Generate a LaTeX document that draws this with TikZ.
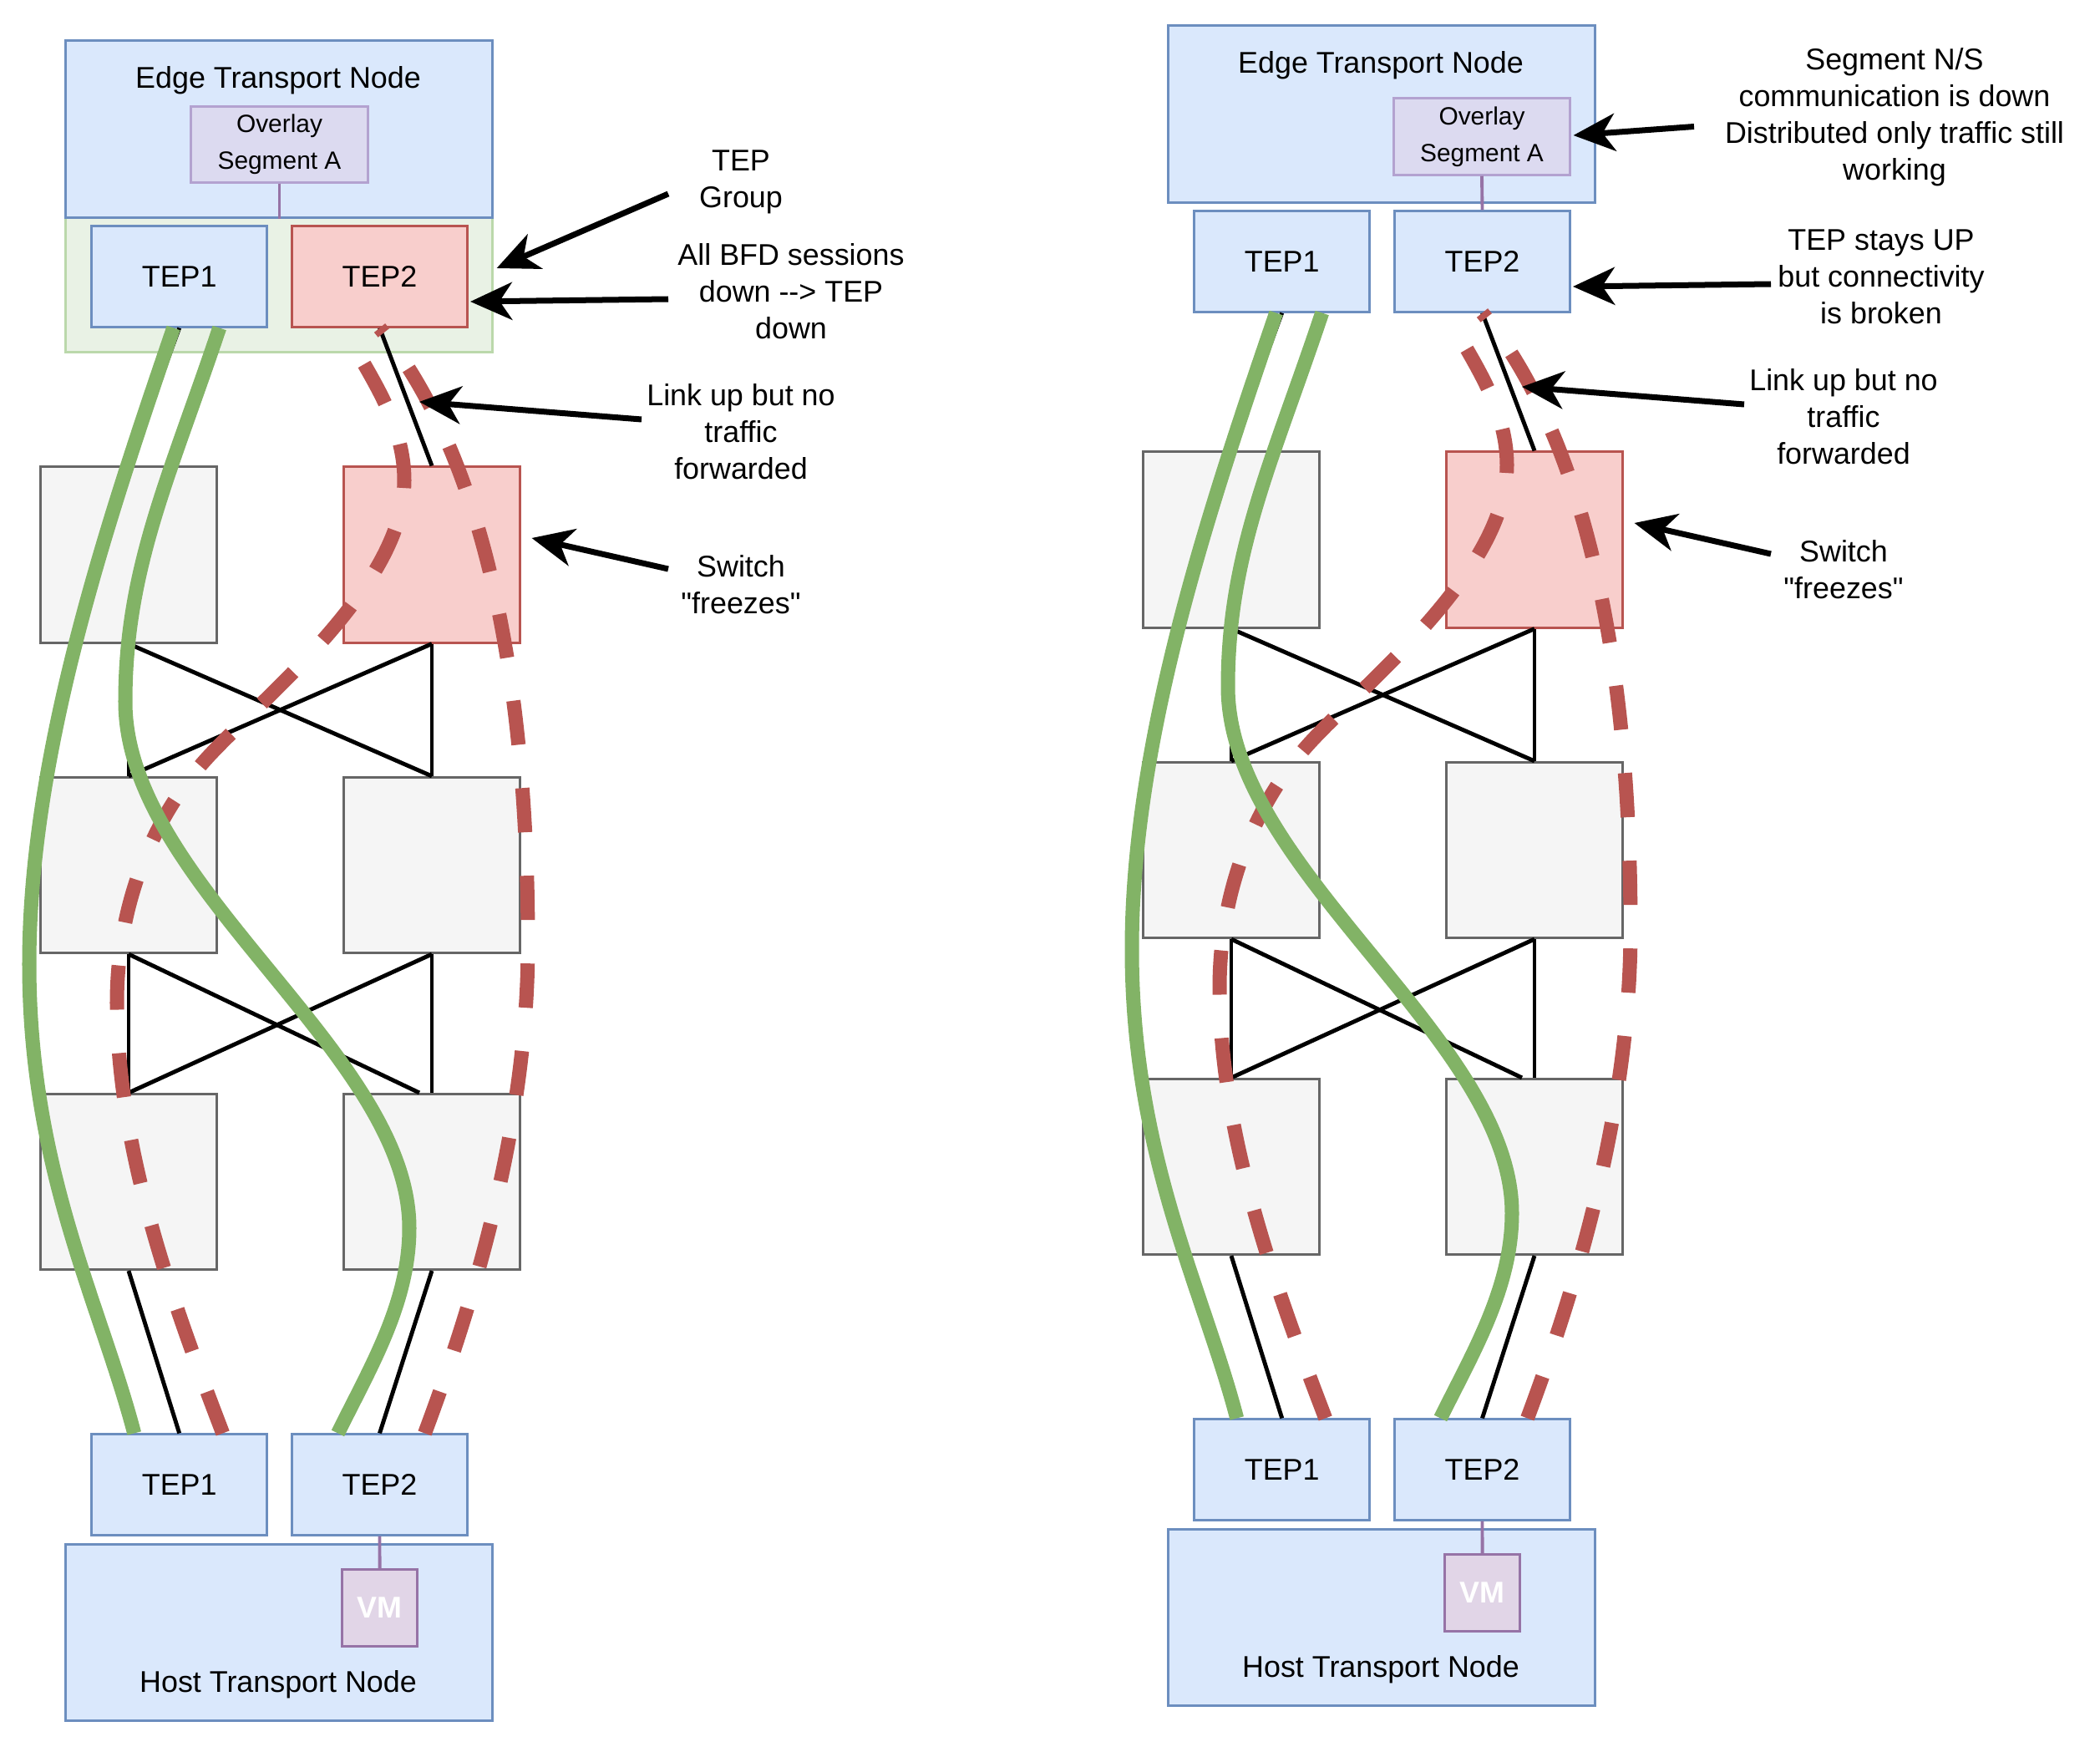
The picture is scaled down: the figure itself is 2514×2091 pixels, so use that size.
\documentclass[tikz,border=0pt]{standalone}
\usepackage{fontspec}
\setmainfont{Liberation Sans}
\usetikzlibrary{arrows.meta,calc}
\definecolor{bluefill}{HTML}{DAE8FC}
\definecolor{blueline}{HTML}{6C8EBF}
\definecolor{redfill}{HTML}{F8CECC}
\definecolor{redline}{HTML}{B85450}
\definecolor{grayfill}{HTML}{F5F5F5}
\definecolor{grayline}{HTML}{666666}
\definecolor{groupfill}{HTML}{E9F2E5}
\definecolor{groupline}{HTML}{BBD8AB}
\definecolor{ovfill}{HTML}{DCDAF0}
\definecolor{ovline}{HTML}{B3A2D0}
\definecolor{vmfill}{HTML}{E1D5E7}
\definecolor{vmline}{HTML}{9673A6}
\definecolor{okgreen}{HTML}{82B366}
\tikzset{
  txt/.style={font=\fontsize{10.2}{12.5}\selectfont, align=center},
  box/.style={draw, line width=0.85pt, inner sep=0pt, txt},
  tepbox/.style={box, minimum width=2.1cm, minimum height=1.2cm},
  switchbox/.style={box, fill=grayfill, draw=grayline, minimum size=2.1cm},
  tnbox/.style={box, fill=bluefill, draw=blueline, minimum width=5.1cm, minimum height=2.11cm},
  link/.style={line width=1.4pt},
  vmlink/.style={draw=vmline, line width=1.1pt},
  okpath/.style={draw=okgreen, line width=0.17cm},
  badpath/.style={draw=redline, line width=0.17cm, dash pattern=on 0.53cm off 0.52cm},
  callout/.style={-{Stealth[length=0.5cm,width=0.45cm,inset=0.15cm]}, line width=0.07cm}
}
\begin{document}
\begin{tikzpicture}[x=0.01cm, y=-0.01cm]
\useasboundingbox (0,0) rectangle (2514,2091);
\node[box, fill=groupfill, draw=groupline, minimum width=5.1cm, minimum height=1.61cm] (grp) at (334,340.5) {};
\foreach \s/\dx/\dy/\topfill/\topline in {L/0/0/redfill/redline, R/1320/-18/bluefill/blueline} {
\begin{scope}[shift={(\dx,\dy)}]
 \node[tnbox] (\s-etn) at (334,154.5) {};
 \node[txt] at (333,96) {Edge Transport Node};
 \node[tepbox, fill=bluefill, draw=blueline] (\s-tep1) at (214.7,331) {TEP1};
 \node[tepbox, fill=\topfill, draw=\topline] (\s-tep2) at (454.5,331) {TEP2};
 \node[switchbox] (\s-sw11) at (154,664) {};
 \node[switchbox, fill=redfill, draw=redline] (\s-sw12) at (517,664) {};
 \node[switchbox] (\s-sw21) at (154,1035.5) {};
 \node[switchbox] (\s-sw22) at (517,1035.5) {};
 \node[switchbox] (\s-sw31) at (154,1414.5) {};
 \node[switchbox] (\s-sw32) at (517,1414.5) {};
 \node[tepbox, fill=bluefill, draw=blueline] (\s-htep1) at (214.7,1777) {TEP1};
 \node[tepbox, fill=bluefill, draw=blueline] (\s-htep2) at (454.5,1777) {TEP2};
 \node[tnbox] (\s-htn) at (334,1954) {};
 \node[txt] at (333,2016) {Host Transport Node};
 \node[box, fill=vmfill, draw=vmline, minimum width=0.9cm, minimum height=0.91cm, text=white, font=\fontsize{10.2}{12}\selectfont\bfseries] (\s-vm) at (454.6,1924.5) {VM};
 \draw[vmlink] (\s-htep2.south) -- (\s-vm.north);
 % physical links
 \draw[link] (\s-tep1.south) -- (\s-sw11.north);
 \draw[link] (\s-tep2.south) -- (\s-sw12.north);
 \draw[link] (\s-sw11.south) -- (\s-sw21.north);
 \draw[link] (\s-sw11.south) -- (\s-sw22.north);
 \draw[link] (\s-sw12.south) -- (\s-sw21.north);
 \draw[link] (\s-sw12.south) -- (\s-sw22.north);
 \draw[link] (\s-sw21.south) -- (\s-sw31.north);
 \draw[link] (\s-sw21.south) -- ($(\s-sw32.north)+(-15,0)$);
 \draw[link] (\s-sw22.south) -- (\s-sw31.north);
 \draw[link] (\s-sw22.south) -- (\s-sw32.north);
 \draw[link] (\s-sw31.south) -- (\s-htep1.north);
 \draw[link] (\s-sw32.south) -- (\s-htep2.north);
 % tunnels
 \draw[badpath] ($(\s-htep1.north)+(52,0)$) .. controls (210,1567) and (140,1380) .. (140,1200)
   .. controls (140,1080) and (185,975) .. (250,905)
   .. controls (318,832) and (484,700) .. (484,575)
   .. controls (484,500) and (435,441) .. ($(\s-tep2.south)+(-42,0)$);
 \draw[badpath] ($(\s-htep2.north)+(54,0)$) .. controls (564,1567) and (632,1350) .. (632,1130)
   .. controls (632,800) and (575,540) .. (\s-tep2.south);
 \draw[okpath] ($(\s-tep1.south)+(-7,0)$) .. controls (130,620) and (35,900) .. (35,1154)
   .. controls (35,1400) and (120,1560) .. ($(\s-htep1.north)+(-54,0)$);
 \draw[okpath] ($(\s-tep1.south)+(48,0)$) .. controls (203,571) and (150,680) .. (150,840)
   .. controls (150,1060) and (490,1260) .. (490,1470)
   .. controls (490,1560) and (443,1637) .. ($(\s-htep2.north)+(-50,0)$);
 % callouts shared by both sides
 \coordinate (\s-tep-tail) at (800,358);
 \draw[callout] (\s-tep-tail) -- ($(\s-tep2.east)+(2,30)$);
 \node[txt] (\s-link-note) at (887,517) {Link up but no\\traffic\\forwarded};
 \coordinate (\s-link-tail) at (768,502);
 \draw[callout] (\s-link-tail) -- ($(\s-tep2.south)!0.536!(\s-sw12.north)+(14,0)$);
 \node[txt] (\s-sw-note) at (887,700) {Switch\\\textquotedbl freezes\textquotedbl};
 \coordinate (\s-sw-tail) at (800,681);
 \draw[callout] (\s-sw-tail) -- ($(\s-sw12.east)+(13,-20)$);
\end{scope}
}
\node[box, fill=ovfill, draw=ovline, minimum width=2.11cm, minimum height=0.905cm, font=\fontsize{8.5}{12.5}\selectfont] (L-ov) at (334.5,172.75) {Overlay\\Segment A};
\draw[vmlink] (L-ov.south) -- (L-ov.south |- L-etn.south);
\node[box, fill=ovfill, draw=ovline, minimum width=2.1cm, minimum height=0.91cm, font=\fontsize{8.5}{12.5}\selectfont] (R-ov) at (1774,163.5) {Overlay\\Segment A};
\draw[vmlink] (R-ov.south) -- (R-tep2.north);
% left notes
\node[txt] (grp-note) at (887,218) {TEP\\Group};
\coordinate (grp-tail) at (800,232);
\draw[callout] (grp-tail) -- ($(grp.east)+(4,-19.5)$);
\node[txt] (bfd-note) at (947,349) {All BFD sessions\\down -{}-> TEP\\down};
% right notes
\node[txt] (ns-note) at (2268,140) {Segment N/S\\communication is down\\Distributed only traffic still\\working};
\coordinate (ns-tail) at (2028,151.5);
\draw[callout] (ns-tail) -- ($(R-ov.east)+(3,-1.5)$);
\node[txt] (up-note) at (2252,331) {TEP stays UP\\but connectivity\\is broken};
\end{tikzpicture}
\end{document}
